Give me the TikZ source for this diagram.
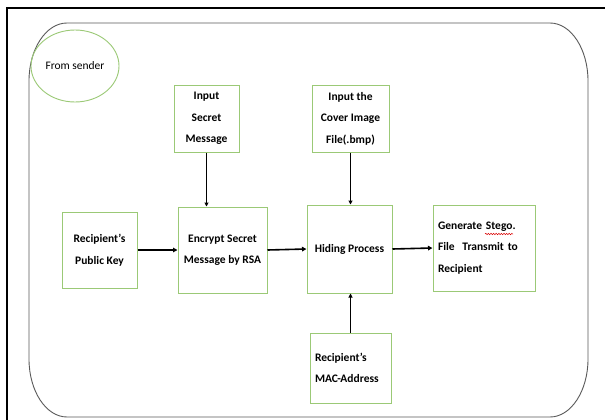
\documentclass[tikz,border=0pt]{standalone}
\usepackage{fontspec}
\setmainfont{Carlito}
\usetikzlibrary{arrows.meta,shapes.geometric,decorations.pathmorphing}
\definecolor{boxgreen}{RGB}{155,201,118}
\definecolor{framegray}{RGB}{90,90,90}
\begin{document}
\begin{tikzpicture}[x=1pt,y=-1pt,
  stepbox/.style={draw=boxgreen,line width=1pt,inner sep=0pt,align=center,
    font=\bfseries\fontsize{11.5}{21.5}\selectfont},
  leftbox/.style={stepbox,align=left,inner xsep=5pt},
  bigarrow/.style={line width=1.6pt,-{Triangle[length=4.5pt,width=4.5pt]}},
  thinarrow/.style={line width=1pt,-{Triangle[length=4pt,width=4pt]}}]
\useasboundingbox (0,0) rectangle (605,420);
\fill[white] (0,0) rectangle (605,420);

% page frame (top and left edges)
\draw[line width=2.5pt] (7,420) -- (7,8) -- (606,8);

% rounded sender area
\draw[framegray,line width=0.9pt]
  (67,23) -- (550,23)
  .. controls (571,23) and (588,49) .. (588,81)
  -- (588,359)
  .. controls (588,391) and (571,417) .. (550,417)
  -- (67,417)
  .. controls (46,417) and (29,391) .. (29,359)
  -- (29,81)
  .. controls (29,49) and (46,23) .. (67,23) -- cycle;

% label ellipse
\node[ellipse,draw=boxgreen,line width=0.9pt,minimum width=88pt,minimum height=72pt,
  inner sep=0pt,font=\fontsize{11.5}{14}\selectfont] (from) at (75,66) {From sender};

% process boxes
\node[stepbox,minimum width=65pt,minimum height=67pt] (sec) at (206.5,118.5)
  {Input\\Secret\\Message};
\node[stepbox,minimum width=77pt,minimum height=67pt] (cov) at (350.5,118.5)
  {Input the\\Cover Image\\File(.bmp)};
\node[stepbox,minimum width=75pt,minimum height=76pt] (pub) at (99.5,250)
  {Recipient’s\\Public Key};
\node[stepbox,minimum width=89pt,minimum height=86pt] (enc) at (222.5,250)
  {Encrypt Secret\\Message by RSA};
\node[stepbox,minimum width=85pt,minimum height=88pt] (hid) at (349.5,249)
  {Hiding Process};
\node[leftbox,text width=92pt,minimum height=86pt] (gen) at (484,248)
  {Generate Stego.\\File~ Transmit to\\Recipient};
\node[leftbox,text width=71pt,minimum height=70pt] (mac) at (350.5,368)
  {Recipient’s\\MAC-Address};

% spell-check mark under "Stego"
\draw[red!85!black,line width=0.5pt,decorate,
  decoration={snake,amplitude=0.7pt,segment length=2.6pt}] (485,234) -- (513,234);

% connectors
\draw[bigarrow] (pub.east) -- (enc.west);
\draw[bigarrow] (enc.east) -- (hid.west);
\draw[bigarrow] (hid.east) -- (gen.west);
\draw[thinarrow] (sec.south) -- (sec.south |- enc.north);
\draw[thinarrow] (cov.south) -- (cov.south |- hid.north);
\draw[thinarrow] (mac.north) -- (mac.north |- hid.south);
\end{tikzpicture}
\end{document}
